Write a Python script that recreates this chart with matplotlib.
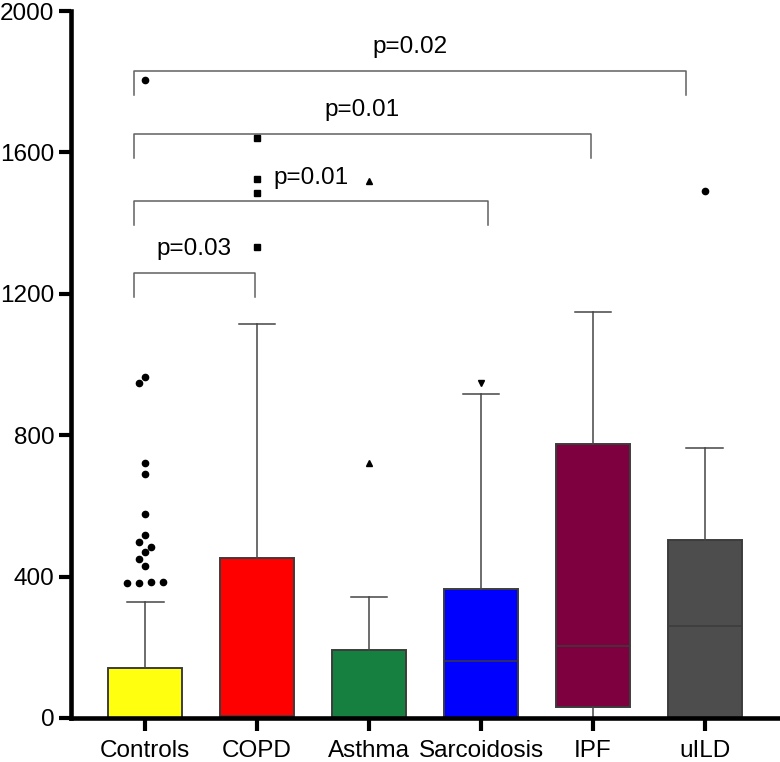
import numpy as np
import matplotlib.pyplot as plt

plt.rcParams['font.family'] = ['Liberation Sans', 'DejaVu Sans']

groups = ['Controls', 'COPD', 'Asthma', 'Sarcoidosis', 'IPF', 'uILD']
colors = ['#ffff10', '#ff0000', '#158040', '#0000ff', '#7f003e', '#4d4d4d']
markers = ['o', 's', '^', 'v', 'o', 'o']

q1 = [0, 0, 0, 0, 32, 0]
median = [0, 5, 0, 162, 205, 260]
q3 = [142, 453, 192, 366, 774, 503]
whisk_lo = [0, 0, 0, 0, 0, 0]
whisk_hi = [327, 1115, 342, 917, 1148, 763]

outliers = [
    [1805, 965, 948, 722, 689, 577, 518, 499, 485, 470, 450, 431, 385, 381, 384, 381],
    [1642, 1524, 1486, 1331],
    [1520, 722],
    [949],
    [],
    [1492],
]

# significance brackets: left end, right end, height, label
brackets = [
    (-0.1, 0.98, 1260, 'p=0.03'),
    (-0.1, 3.06, 1462, 'p=0.01'),
    (-0.1, 3.98, 1652, 'p=0.01'),
    (-0.1, 4.83, 1830, 'p=0.02'),
]

fig = plt.figure(figsize=(7.8, 7.62), dpi=100)
ax = fig.add_axes([71 / 780, 44 / 762, 709 / 780, 707 / 762])
ax.set_xlim(-0.661, 5.67)
ax.set_ylim(0, 2000)

stats = []
for i in range(len(groups)):
    stats.append(dict(med=median[i], q1=q1[i], q3=q3[i],
                      whislo=whisk_lo[i], whishi=whisk_hi[i], label=groups[i]))

edge = '#3c3c3c'
bp = ax.bxp(stats, positions=range(len(groups)), widths=0.66, capwidths=0.33,
            patch_artist=True, showfliers=False,
            boxprops=dict(edgecolor=edge, linewidth=1.4),
            whiskerprops=dict(color='#454545', linewidth=1.1),
            capprops=dict(color='#454545', linewidth=1.1),
            medianprops=dict(color=edge, linewidth=1.1))
for patch, c in zip(bp['boxes'], colors):
    patch.set_facecolor(c)


def swarm_x(values, pos, d=8.0, step=6.0):
    # greedy beeswarm in pixel space, rows of equal values centred
    placed = []
    base = []
    for v in values:
        px, py = ax.transData.transform((pos, v))
        for k in [0, -1, 1, -2, 2, -3, 3, -4, 4]:
            cx = px + k * step
            if all(np.hypot(cx - qx, py - qy) >= d for qx, qy in placed):
                break
        placed.append((cx, py))
        base.append(px)
    placed = np.array(placed)
    off = placed[:, 0] - np.array(base)
    done = set()
    for i in range(len(placed)):
        if i in done:
            continue
        row = [j for j in range(len(placed)) if abs(placed[j, 1] - placed[i, 1]) < 3]
        done.update(row)
        if len(row) > 1:
            off[row] -= off[row].mean()
    placed[:, 0] = np.array(base) + off
    return ax.transData.inverted().transform(placed)[:, 0]


for i, vals in enumerate(outliers):
    if not vals:
        continue
    xs = swarm_x(vals, i)
    ms = 4 if markers[i] == 's' else 4.5
    ax.plot(xs, vals, linestyle='none', marker=markers[i], color='black',
            markersize=ms, clip_on=False, zorder=4)

for x1, x2, y, lab in brackets:
    ax.plot([x1, x1, x2, x2], [y - 68, y, y, y - 68], color='#606060', lw=1.1)
    ax.annotate(lab, xy=((x1 + x2) / 2, y), xytext=(0, 17), textcoords='offset points',
                ha='center', va='center', fontsize=17.5)

for s in ['top', 'right']:
    ax.spines[s].set_visible(False)
for s in ['left', 'bottom']:
    ax.spines[s].set_linewidth(3.3)
    ax.spines[s].set_zorder(5)

ax.set_yticks([0, 400, 800, 1200, 1600, 2000])
ax.set_xticks(range(len(groups)), groups)
ax.tick_params(axis='both', length=9, width=3, labelsize=17.5, pad=3)
ax.tick_params(axis='x', pad=7)

fig.savefig('out.png', dpi=100)
